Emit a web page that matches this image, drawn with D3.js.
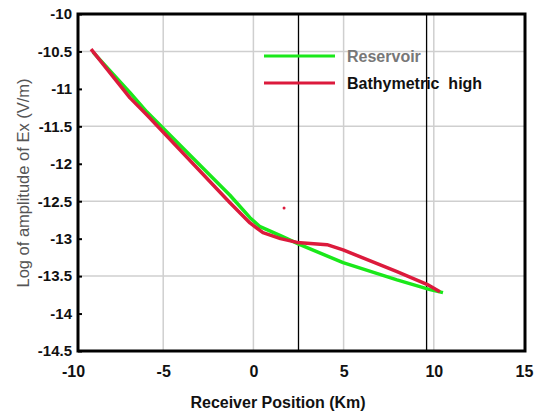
<!DOCTYPE html>
<html><head><meta charset="utf-8">
<script src="https://cdn.jsdelivr.net/npm/d3@7"></script>
<style>body{margin:0;background:#fff}svg{display:block}</style>
</head><body>
<script>
const xTicks = [-10, -5, 0, 5, 10, 15];
const yTicks = [-10, -10.5, -11, -11.5, -12, -12.5, -13, -13.5, -14, -14.5];
const xGrid = [-5, 0, 5, 10];
const yGrid = [-10.5, -11.5, -12.5, -13.5];
const markerLines = [2.5, 9.6];
const reservoirX = [-8.89, -6.84, -5.9, -1.3, -0.19, 0.37, 1.5, 2.58, 4.97, 7.96, 9.79, 10.51];
const reservoirY = [-10.51, -11.05, -11.31, -12.42, -12.72, -12.84, -12.96, -13.08, -13.32, -13.55, -13.68, -13.72];
const bathyX = [-9.0, -6.84, -5.9, -1.3, -0.19, 0.53, 1.5, 2.42, 4.08, 4.97, 7.96, 9.62, 10.34];
const bathyY = [-10.47, -11.12, -11.35, -12.52, -12.79, -12.92, -13.0, -13.05, -13.08, -13.15, -13.44, -13.61, -13.71];
const strayPoint = [[1.7, -12.59]];
const seriesNames = ["Reservoir", "Bathymetric\u00a0\u00a0high"];

const W = 534, H = 414;
const svg = d3.select("body").append("svg").attr("width", W).attr("height", H);
const x = d3.scaleLinear().domain([-10, 15]).range([73, 524]);
const y = d3.scaleLinear().domain([-10, -14.5]).range([14, 351]);
const frame = {l: 78, r: 525, t: 14, b: 351};
const font = "'Liberation Sans', Arial, sans-serif";

// grid
svg.append("g").selectAll("line").data(xGrid).join("line")
  .attr("x1", d => x(d)).attr("x2", d => x(d)).attr("y1", frame.t).attr("y2", frame.b)
  .attr("stroke", "#cfcfcf").attr("stroke-width", 1.5);
svg.append("g").selectAll("line").data(yGrid).join("line")
  .attr("x1", frame.l).attr("x2", frame.r).attr("y1", d => y(d)).attr("y2", d => y(d))
  .attr("stroke", "#cfcfcf").attr("stroke-width", 1.5);
// marker vertical lines
svg.append("g").selectAll("line").data(markerLines).join("line")
  .attr("x1", d => x(d)).attr("x2", d => x(d)).attr("y1", frame.t).attr("y2", frame.b)
  .attr("stroke", "#000").attr("stroke-width", 1.3);

// series
const line = d3.line().x(d => x(d[0])).y(d => y(d[1]));
const green = "#1ae81a", red = "#dc1a3c";
svg.append("path").datum(reservoirX.map((v, i) => [v, reservoirY[i]]))
  .attr("d", line).attr("fill", "none").attr("stroke", green).attr("stroke-width", 3.5)
  .attr("stroke-linejoin", "round");
svg.append("path").datum(bathyX.map((v, i) => [v, bathyY[i]]))
  .attr("d", line).attr("fill", "none").attr("stroke", red).attr("stroke-width", 3.5)
  .attr("stroke-linejoin", "round");
svg.append("g").selectAll("circle").data(strayPoint).join("circle")
  .attr("cx", d => x(d[0])).attr("cy", d => y(d[1])).attr("r", 1.5).attr("fill", red);

// frame
svg.append("rect").attr("x", frame.l).attr("y", frame.t)
  .attr("width", frame.r - frame.l).attr("height", frame.b - frame.t)
  .attr("fill", "none").attr("stroke", "#000").attr("stroke-width", 3);

// axes
const xAxis = svg.append("g").attr("transform", `translate(0,${frame.b})`)
  .call(d3.axisBottom(x).tickValues(xTicks).tickSize(0).tickPadding(15).tickFormat(d => String(d)));
xAxis.select(".domain").remove();
xAxis.selectAll("text").attr("font-family", font).attr("font-size", 16).attr("font-weight", "bold").attr("fill", "#111");

const yAxis = svg.append("g").attr("transform", `translate(${frame.l},0)`)
  .call(d3.axisLeft(y).tickValues(yTicks).tickSize(3).tickPadding(3).tickFormat(d => String(d)));
yAxis.select(".domain").remove();
yAxis.selectAll(".tick line").attr("x2", 4).attr("stroke-width", 2);
yAxis.selectAll("text").attr("font-family", font).attr("font-size", 15).attr("font-weight", "bold").attr("fill", "#111");

// axis titles
svg.append("text").attr("x", 278).attr("y", 408).attr("text-anchor", "middle")
  .attr("font-family", font).attr("font-size", 16).attr("font-weight", "bold").attr("fill", "#111")
  .text("Receiver Position (Km)");
svg.append("text").attr("transform", "translate(29,183) rotate(-90)").attr("text-anchor", "middle")
  .attr("font-family", font).attr("font-size", 16.5).attr("fill", "#555")
  .text("Log of amplitude of Ex (V/m)");

// legend
const leg = svg.append("g");
const legY = [56, 83];
const legCol = [green, red];
const legTxt = ["#777", "#111"];
seriesNames.forEach((n, i) => {
  leg.append("line").attr("x1", 264).attr("x2", 335).attr("y1", legY[i]).attr("y2", legY[i])
    .attr("stroke", legCol[i]).attr("stroke-width", 3);
  leg.append("text").attr("x", 347).attr("y", legY[i] + 6).attr("font-family", font)
    .attr("font-size", 16).attr("font-weight", "bold").attr("fill", legTxt[i]).text(n);
});
</script>
</body></html>
